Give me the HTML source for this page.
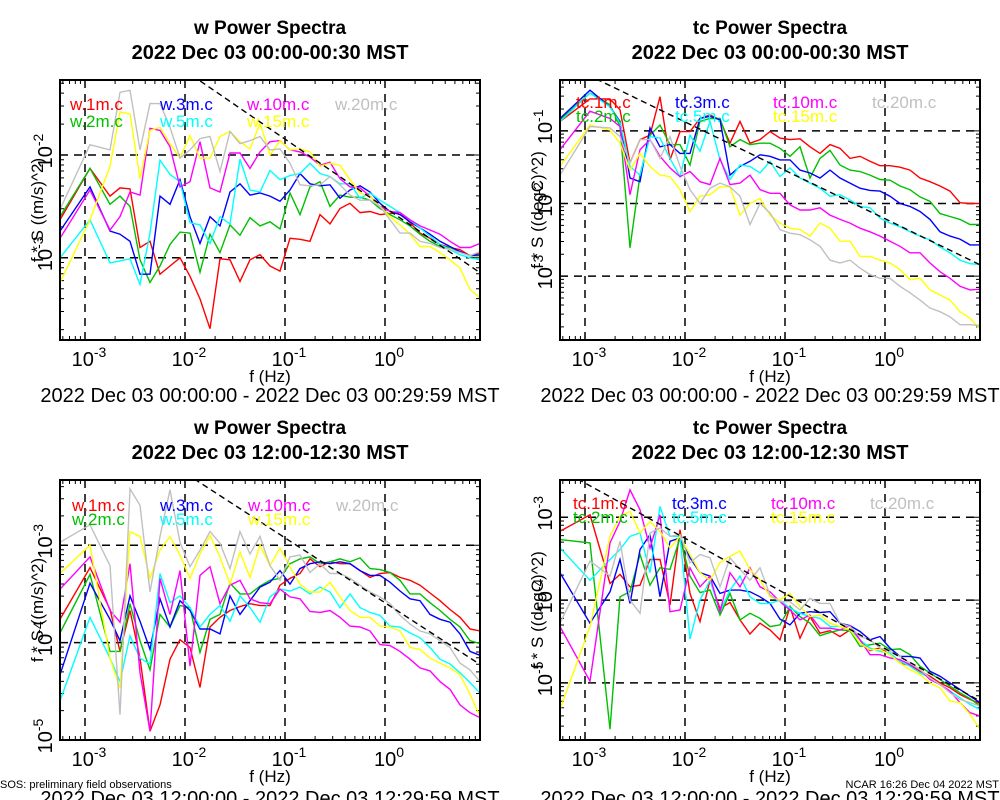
<!DOCTYPE html>
<html><head><meta charset="utf-8"><style>
html,body{margin:0;padding:0;background:#fff;}
svg{display:block;font-family:"Liberation Sans",Arial,sans-serif;}
</style></head><body>
<svg id="chart" width="1000" height="800" viewBox="0 0 1000 800" xmlns="http://www.w3.org/2000/svg">
<rect width="1000" height="800" fill="#fff"/>
<g id="texts">
<text x="270" y="34" text-anchor="middle" font-size="19" font-weight="bold">w Power Spectra</text>
<text x="270" y="59" text-anchor="middle" font-size="20" font-weight="bold">2022 Dec 03 00:00-00:30 MST</text>
<text x="770" y="34" text-anchor="middle" font-size="19" font-weight="bold">tc Power Spectra</text>
<text x="770" y="59" text-anchor="middle" font-size="20" font-weight="bold">2022 Dec 03 00:00-00:30 MST</text>
<text x="270" y="434" text-anchor="middle" font-size="19" font-weight="bold">w Power Spectra</text>
<text x="270" y="459" text-anchor="middle" font-size="20" font-weight="bold">2022 Dec 03 12:00-12:30 MST</text>
<text x="770" y="434" text-anchor="middle" font-size="19" font-weight="bold">tc Power Spectra</text>
<text x="770" y="459" text-anchor="middle" font-size="20" font-weight="bold">2022 Dec 03 12:00-12:30 MST</text>
<text x="270" y="402" text-anchor="middle" font-size="20">2022 Dec 03 00:00:00 - 2022 Dec 03 00:29:59 MST</text>
<text x="770" y="402" text-anchor="middle" font-size="20">2022 Dec 03 00:00:00 - 2022 Dec 03 00:29:59 MST</text>
<text x="270" y="805" text-anchor="middle" font-size="20">2022 Dec 03 12:00:00 - 2022 Dec 03 12:29:59 MST</text>
<text x="770" y="805" text-anchor="middle" font-size="20">2022 Dec 03 12:00:00 - 2022 Dec 03 12:29:59 MST</text>
<text x="0" y="788" font-size="11">SOS: preliminary field observations</text>
<text x="999" y="788" text-anchor="end" font-size="11">NCAR 16:26 Dec 04 2022 MST</text>
</g>
</svg>
<script>
// shared frequency axis (log10 Hz)
const logFreq = [-3.25,-2.95,-2.75,-2.65,-2.55,-2.45,-2.35,-2.25,-2.15,-2.05,-1.95,-1.85,-1.75,-1.65,-1.55,-1.45,-1.35,-1.25,-1.15,-1.05,-0.95,-0.85,-0.75,-0.65,-0.55,-0.45,-0.35,-0.25,-0.15,-0.05,0.05,0.15,0.25,0.35,0.45,0.55,0.65,0.75,0.85,0.95];
const xTickExps = [-3,-2,-1,0];
const seriesColors = ["#ff0000","#00c000","#0000ff","#00ffff","#ff00ff","#ffff00","#c0c0c0"];

// Panel 1: w, 00:00 (log10 f*S)
const wTopLabels = ["w.1m.c","w.2m.c","w.3m.c","w.5m.c","w.10m.c","w.15m.c","w.20m.c"];
const wTop1m = [-2.63,-2.13,-2.40,-2.32,-2.33,-2.90,-2.84,-3.16,-3.08,-3.00,-3.18,-3.40,-3.69,-3.01,-3.02,-3.23,-3.02,-2.97,-3.08,-3.13,-2.81,-2.82,-2.84,-2.58,-2.67,-2.52,-2.47,-2.56,-2.55,-2.58,-2.57,-2.56,-2.66,-2.76,-2.81,-2.87,-2.90,-2.92,-2.98,-2.95];
const wTop2m = [-2.60,-2.13,-2.48,-2.40,-2.50,-3.02,-3.24,-3.08,-2.87,-2.75,-2.76,-3.14,-2.77,-2.95,-2.68,-2.78,-2.61,-2.69,-2.65,-2.72,-2.37,-2.58,-2.31,-2.26,-2.50,-2.39,-2.41,-2.41,-2.44,-2.52,-2.58,-2.63,-2.69,-2.77,-2.84,-2.89,-2.90,-2.94,-2.98,-2.98];
const wTop3m = [-2.74,-2.31,-2.74,-2.77,-2.84,-3.16,-3.16,-2.40,-2.48,-2.24,-2.60,-2.86,-2.60,-2.69,-2.36,-2.28,-2.39,-2.37,-2.40,-2.45,-2.34,-2.18,-2.28,-2.30,-2.29,-2.42,-2.34,-2.30,-2.36,-2.47,-2.55,-2.58,-2.65,-2.71,-2.77,-2.84,-2.89,-2.94,-2.98,-2.97];
const wTop5m = [-3.00,-2.63,-3.05,-3.03,-3.01,-3.26,-2.76,-2.05,-2.19,-2.26,-2.66,-2.68,-2.86,-2.60,-2.67,-2.04,-2.34,-2.36,-2.15,-2.24,-2.20,-2.18,-2.08,-2.18,-2.21,-2.28,-2.28,-2.42,-2.37,-2.44,-2.50,-2.56,-2.63,-2.71,-2.79,-2.87,-2.92,-2.97,-3.00,-3.02];
const wTop10m = [-2.81,-2.34,-2.73,-2.60,-2.36,-2.39,-1.74,-1.76,-1.92,-2.31,-2.26,-1.87,-2.32,-2.36,-1.98,-1.98,-2.13,-1.97,-1.87,-1.86,-1.95,-1.97,-2.02,-2.10,-2.07,-2.23,-2.31,-2.32,-2.40,-2.50,-2.55,-2.56,-2.63,-2.69,-2.73,-2.77,-2.84,-2.90,-2.90,-2.86];
const wTop15m = [-3.24,-2.63,-2.11,-1.58,-1.60,-2.23,-1.76,-1.73,-1.89,-2.03,-1.81,-2.03,-2.03,-1.82,-1.77,-1.87,-1.94,-1.69,-2.00,-1.86,-1.95,-1.94,-1.97,-2.11,-2.08,-2.10,-2.24,-2.37,-2.40,-2.50,-2.60,-2.68,-2.77,-2.89,-2.89,-2.95,-3.02,-3.10,-3.31,-3.39];
const wTop20m = [-2.53,-1.90,-1.95,-1.39,-1.37,-1.95,-1.50,-1.50,-1.73,-2.03,-1.95,-1.84,-1.82,-2.16,-1.77,-1.89,-1.86,-1.82,-1.95,-1.94,-2.08,-2.29,-2.30,-2.29,-2.21,-2.29,-2.39,-2.44,-2.44,-2.50,-2.63,-2.76,-2.76,-2.84,-2.86,-2.90,-2.92,-2.95,-2.98,-2.94];

// Panel 2: tc, 00:00
const tcTopLabels = ["tc.1m.c","tc.2m.c","tc.3m.c","tc.5m.c","tc.10m.c","tc.15m.c","tc.20m.c"];
const tcTop1m = [-0.87,-0.56,-0.56,-0.71,-1.44,-1.12,-1.06,-0.53,-1.40,-1.01,-1.01,-0.83,-0.78,-0.85,-1.17,-0.87,-1.17,-1.12,-1.01,-1.10,-1.12,-1.11,-1.22,-1.31,-1.19,-1.24,-1.38,-1.35,-1.42,-1.48,-1.48,-1.50,-1.54,-1.65,-1.70,-1.76,-1.83,-1.99,-2.00,-2.00];
const tcTop2m = [-0.85,-0.48,-0.64,-0.94,-2.61,-1.61,-1.06,-0.92,-1.19,-1.19,-1.47,-0.87,-0.83,-0.83,-1.22,-1.12,-1.19,-1.17,-1.17,-1.24,-1.35,-1.22,-1.65,-1.38,-1.27,-1.47,-1.54,-1.56,-1.61,-1.67,-1.68,-1.76,-1.81,-1.91,-1.97,-2.14,-2.18,-2.22,-2.29,-2.29];
const tcTop3m = [-0.83,-0.44,-0.67,-0.87,-1.65,-1.70,-0.96,-1.22,-1.19,-1.31,-1.31,-0.83,-0.80,-0.85,-1.61,-1.49,-1.42,-1.33,-1.35,-1.40,-1.40,-1.54,-1.58,-1.65,-1.54,-1.65,-1.72,-1.79,-1.82,-1.83,-1.90,-2.00,-2.04,-2.11,-2.22,-2.39,-2.45,-2.49,-2.57,-2.57];
const tcTop5m = [-0.87,-0.48,-0.67,-0.89,-1.49,-1.61,-1.08,-1.10,-1.38,-1.63,-1.06,-1.28,-0.87,-1.40,-1.67,-1.47,-1.49,-1.58,-1.42,-1.63,-1.51,-1.65,-1.72,-1.79,-1.90,-1.88,-1.95,-2.04,-2.06,-2.20,-2.27,-2.32,-2.39,-2.45,-2.50,-2.60,-2.68,-2.78,-2.83,-2.84];
const tcTop10m = [-1.26,-0.73,-0.83,-0.94,-1.88,-1.26,-1.12,-1.35,-1.51,-1.63,-1.56,-1.70,-1.74,-1.38,-1.74,-1.72,-1.61,-1.81,-1.86,-1.86,-2.02,-2.09,-2.09,-2.06,-2.16,-2.22,-2.27,-2.34,-2.39,-2.45,-2.52,-2.59,-2.68,-2.68,-2.82,-2.94,-3.03,-3.14,-3.19,-3.18];
const tcTop15m = [-1.49,-0.92,-0.99,-1.17,-1.54,-1.31,-1.49,-1.61,-1.63,-1.81,-2.11,-1.90,-1.88,-1.77,-1.77,-2.16,-2.00,-1.93,-2.16,-2.27,-2.34,-2.36,-2.45,-2.27,-2.34,-2.52,-2.52,-2.73,-2.73,-2.78,-2.82,-2.91,-3.05,-3.03,-3.19,-3.26,-3.33,-3.49,-3.58,-3.73];
const tcTop20m = [-1.61,-0.94,-0.96,-1.08,-1.44,-1.12,-1.12,-1.38,-1.08,-1.49,-1.81,-2.00,-1.79,-1.72,-1.77,-1.90,-2.29,-2.00,-2.13,-2.36,-2.41,-2.43,-2.50,-2.59,-2.78,-2.82,-2.78,-2.89,-2.98,-3.03,-3.03,-3.14,-3.23,-3.33,-3.44,-3.49,-3.56,-3.67,-3.67,-3.68];

// Panel 3: w, 12:00
const wBot1m = [-3.76,-3.23,-3.66,-4.09,-3.67,-4.16,-4.91,-4.64,-4.17,-3.97,-4.05,-4.46,-3.84,-3.74,-3.67,-3.63,-3.60,-3.62,-3.62,-3.41,-3.34,-3.29,-3.14,-3.22,-3.17,-3.19,-3.19,-3.26,-3.33,-3.29,-3.28,-3.33,-3.36,-3.41,-3.49,-3.57,-3.66,-3.74,-3.86,-3.88];
const wBot2m = [-3.90,-3.30,-4.09,-4.09,-3.60,-3.98,-4.28,-3.71,-3.84,-3.62,-3.64,-4.10,-3.76,-3.71,-3.39,-3.50,-3.50,-3.42,-3.36,-3.34,-3.19,-3.14,-3.12,-3.19,-3.17,-3.14,-3.17,-3.13,-3.24,-3.25,-3.28,-3.36,-3.50,-3.50,-3.59,-3.67,-3.76,-3.84,-3.98,-4.01];
const wBot3m = [-4.33,-3.39,-3.76,-3.98,-3.52,-3.78,-4.07,-3.55,-3.84,-3.57,-3.67,-3.86,-3.86,-3.91,-3.52,-3.71,-3.57,-3.43,-3.38,-3.26,-3.40,-3.24,-3.19,-3.17,-3.19,-3.17,-3.19,-3.26,-3.31,-3.31,-3.38,-3.47,-3.55,-3.57,-3.71,-3.76,-3.79,-3.91,-4.09,-4.13];
const wBot5m = [-4.60,-3.74,-4.16,-4.40,-3.93,-4.16,-4.22,-3.29,-3.59,-3.52,-3.64,-3.84,-3.71,-3.62,-3.78,-3.52,-3.64,-3.79,-3.53,-3.45,-3.47,-3.43,-3.50,-3.43,-3.48,-3.64,-3.50,-3.64,-3.69,-3.72,-3.83,-3.84,-3.90,-3.95,-4.05,-4.17,-4.22,-4.31,-4.41,-4.52];
const wBot10m = [-3.45,-3.12,-3.67,-3.79,-3.19,-4.31,-4.91,-3.34,-3.71,-3.26,-4.24,-3.31,-3.22,-3.60,-3.41,-3.36,-3.55,-3.59,-3.60,-3.45,-3.53,-3.55,-3.68,-3.69,-3.67,-3.74,-3.83,-3.84,-3.88,-4.02,-4.03,-4.09,-4.17,-4.26,-4.29,-4.40,-4.48,-4.64,-4.72,-4.77];
const wBot15m = [-3.29,-3.00,-4.16,-4.47,-2.86,-2.91,-3.34,-3.05,-2.91,-3.10,-3.34,-3.09,-2.90,-3.12,-3.40,-3.07,-3.33,-3.00,-3.21,-3.03,-3.22,-3.40,-3.48,-3.48,-3.38,-3.53,-3.67,-3.74,-3.74,-3.83,-3.84,-3.88,-4.05,-4.07,-4.16,-4.21,-4.26,-4.33,-4.53,-4.76];
const wBot20m = [-2.97,-2.79,-3.21,-4.74,-2.42,-2.59,-3.48,-2.91,-2.43,-2.97,-3.22,-3.05,-2.86,-2.98,-3.24,-2.86,-3.09,-2.91,-3.21,-3.36,-3.12,-3.10,-3.28,-3.19,-3.29,-3.29,-3.34,-3.41,-3.48,-3.53,-3.60,-3.72,-3.81,-3.88,-3.91,-3.98,-4.05,-4.21,-4.28,-4.40];

// Panel 4: tc, 12:00
const tcBot1m = [-3.17,-2.97,-3.80,-3.69,-3.84,-3.82,-3.51,-3.51,-4.06,-3.15,-3.92,-4.26,-3.76,-4.10,-4.03,-4.24,-4.41,-4.28,-4.36,-4.48,-4.08,-4.46,-4.20,-4.40,-4.37,-4.44,-4.36,-4.48,-4.61,-4.58,-4.66,-4.76,-4.79,-4.86,-4.92,-5.00,-5.06,-5.14,-5.20,-5.25];
const tcBot2m = [-3.27,-3.31,-5.56,-3.96,-3.90,-3.45,-3.82,-3.61,-3.63,-3.25,-3.71,-3.91,-3.88,-4.18,-3.92,-4.24,-4.16,-4.22,-4.32,-4.30,-4.08,-4.20,-4.28,-4.43,-4.39,-4.36,-4.37,-4.56,-4.54,-4.52,-4.60,-4.59,-4.66,-4.80,-4.88,-4.96,-5.04,-5.12,-5.19,-5.28];
const tcBot3m = [-3.67,-4.28,-3.90,-3.51,-4.04,-3.39,-3.21,-3.96,-3.29,-3.25,-3.49,-3.67,-3.71,-3.92,-3.88,-3.88,-3.90,-3.96,-4.04,-4.23,-4.30,-4.16,-4.14,-4.15,-4.14,-4.28,-4.31,-4.38,-4.48,-4.44,-4.58,-4.68,-4.68,-4.70,-4.86,-4.92,-5.00,-5.08,-5.16,-5.24];
const tcBot5m = [-3.37,-3.76,-3.51,-3.39,-3.23,-3.19,-3.67,-2.87,-3.23,-3.23,-4.47,-4.00,-3.76,-4.14,-3.88,-3.71,-3.96,-4.04,-4.04,-4.00,-4.10,-4.16,-4.20,-4.22,-4.32,-4.32,-4.36,-4.48,-4.58,-4.62,-4.64,-4.74,-4.80,-4.88,-4.94,-5.02,-5.10,-5.18,-5.26,-5.32];
const tcBot10m = [-4.32,-4.98,-3.31,-3.05,-2.67,-2.91,-3.37,-2.97,-4.14,-4.12,-3.61,-3.84,-3.71,-4.14,-3.67,-3.84,-3.61,-3.84,-3.90,-4.02,-4.12,-4.24,-4.18,-4.34,-4.34,-4.36,-4.31,-4.48,-4.66,-4.66,-4.70,-4.72,-4.78,-4.84,-4.96,-5.02,-5.10,-5.24,-5.36,-5.40];
const tcBot15m = [-5.32,-4.32,-3.23,-2.99,-2.93,-3.19,-3.05,-3.17,-3.37,-3.23,-3.45,-3.67,-3.76,-3.55,-3.47,-3.41,-3.63,-3.76,-3.96,-4.00,-3.92,-4.08,-4.20,-4.18,-4.28,-4.32,-4.36,-4.52,-4.60,-4.60,-4.66,-4.76,-4.84,-4.90,-5.00,-5.06,-5.22,-5.24,-5.38,-5.56];
const tcBot20m = [-4.28,-3.53,-3.71,-3.29,-4.00,-4.16,-3.19,-3.13,-3.23,-3.21,-3.55,-3.45,-3.49,-3.84,-3.49,-3.63,-3.76,-3.61,-3.94,-4.02,-4.02,-4.12,-3.98,-4.04,-4.04,-4.28,-4.32,-4.44,-4.48,-4.58,-4.62,-4.68,-4.76,-4.84,-4.94,-5.02,-5.12,-5.20,-5.24,-5.28];

// reference -2/3 slope line anchors (log10 value at f = 10^0.95)
const refAnchors = [-3.145,-2.844,-4.224,-5.22];
const yTickExps = [[-2,-3],[-1,-2,-3],[-3,-4,-5],[-3,-4,-5]];

const panels = [
 {name:"w-top", x0:60,y0:80,w:420,h:260,ymin:-3.8,ymax:-1.27,labels:wTopLabels,series:[wTop1m,wTop2m,wTop3m,wTop5m,wTop10m,wTop15m,wTop20m],ytitle:"f * S ((m/s)^2)",legX:[70,160,247,335],legY:[110,127]},
 {name:"tc-top", x0:560,y0:80,w:420,h:260,ymin:-3.88,ymax:-0.30,labels:tcTopLabels,series:[tcTop1m,tcTop2m,tcTop3m,tcTop5m,tcTop10m,tcTop15m,tcTop20m],ytitle:"f * S ((degC)^2)",legX:[576,675,773,872],legY:[108,122]},
 {name:"w-bottom", x0:60,y0:480,w:420,h:260,ymin:-5.0,ymax:-2.33,labels:wTopLabels,series:[wBot1m,wBot2m,wBot3m,wBot5m,wBot10m,wBot15m,wBot20m],ytitle:"f * S ((m/s)^2)",legX:[72,160,248,336],legY:[511,525]},
 {name:"tc-bottom", x0:560,y0:480,w:420,h:260,ymin:-5.69,ymax:-2.55,labels:tcTopLabels,series:[tcBot1m,tcBot2m,tcBot3m,tcBot5m,tcBot10m,tcBot15m,tcBot20m],ytitle:"f * S ((degC)^2)",legX:[573,672,771,870],legY:[509,523]}
];
const XMIN=-3.25, XMAX=0.95;
const NS="http://www.w3.org/2000/svg";
const svg=document.getElementById("chart");
function mk(tag,attrs,parent){const e=document.createElementNS(NS,tag);for(const k in attrs)e.setAttribute(k,attrs[k]);(parent||svg).appendChild(e);return e;}

panels.forEach((p,pi)=>{
  const xs=v=>p.x0+(v-XMIN)/(XMAX-XMIN)*p.w;
  const ys=v=>p.y0+(p.ymax-v)/(p.ymax-p.ymin)*p.h;
  const g=mk("g",{});
  
  
  const cp=mk("clipPath",{id:"clip"+pi},g);
  mk("rect",{x:p.x0,y:p.y0,width:p.w,height:p.h},cp);
  xTickExps.forEach(e=>{
    const gl=mk("line",{x1:xs(e),x2:xs(e),y1:p.y0,y2:p.y0+p.h,stroke:"#000","stroke-width":1.5,"stroke-dasharray":"8,6"},g);
    
    
  });
  yTickExps[pi].forEach(e=>{
    const gl=mk("line",{x1:p.x0,x2:p.x0+p.w,y1:ys(e),y2:ys(e),stroke:"#000","stroke-width":1.5,"stroke-dasharray":"8,6"},g);
    
    
  });
  let tk="";
  for(let d=-4;d<=1;d++)for(let m=1;m<=9;m++){const v=d+Math.log10(m);if(v<XMIN||v>XMAX)continue;const x=xs(v),L=m==1?8:4;tk+=`M${x},${p.y0+p.h}v${-L}M${x},${p.y0}v${L}`;}
  for(let d=-7;d<=1;d++)for(let m=1;m<=9;m++){const v=d+Math.log10(m);if(v<p.ymin||v>p.ymax)continue;const y=ys(v),L=m==1?8:4;tk+=`M${p.x0},${y}h${L}M${p.x0+p.w},${y}h${-L}`;}
  const ticks=mk("path",{d:tk,stroke:"#000","stroke-width":1,fill:"none"},g);
  
  
  p.series.forEach((s,si)=>{
    const d=s.map((v,i)=>(i?"L":"M")+xs(logFreq[i]).toFixed(1)+","+ys(v).toFixed(1)).join("");
    const pl=mk("path",{d:d,fill:"none",stroke:seriesColors[si],"stroke-width":1.4,"clip-path":"url(#clip"+pi+")"},g);
    
    
  });
  const a=refAnchors[pi];
  const rl=mk("line",{x1:xs(XMIN),y1:ys(a-(2/3)*(XMIN-0.95)),x2:xs(XMAX),y2:ys(a),stroke:"#000","stroke-width":1.4,"stroke-dasharray":"6,4","clip-path":"url(#clip"+pi+")"},g);
  
  
  const fr=mk("rect",{x:p.x0,y:p.y0,width:p.w,height:p.h,fill:"none",stroke:"#000","stroke-width":2},g);
  
  
  p.labels.forEach((lab,si)=>{
    const row=si%2;
    const cx = si<6 ? p.legX[Math.floor(si/2)] : p.legX[3];
    const cy = si<6 ? p.legY[row] : p.legY[0];
    const t=mk("text",{x:cx,y:cy,fill:seriesColors[si],"font-size":17},g);
    t.textContent=lab;
    
    
  });
  xTickExps.forEach(e=>{
    const t=mk("text",{x:xs(e)+4,y:p.y0+p.h+26,"text-anchor":"middle","font-size":20},g);
    t.innerHTML="10<tspan dy='-9' font-size='14'>"+e+"</tspan>";
    
    
  });
  const xt=mk("text",{x:p.x0+p.w/2,y:p.y0+p.h+42,"text-anchor":"middle","font-size":17},g);
  xt.textContent="f (Hz)";
  
  
  yTickExps[pi].forEach(e=>{
    const y=ys(e)-4, x=p.x0-8;
    const t=mk("text",{x:0,y:0,"text-anchor":"middle","font-size":20,transform:`translate(${x},${y}) rotate(-90)`},g);
    t.innerHTML="10<tspan dy='-9' font-size='14'>"+e+"</tspan>";
    
    
  });
  const yt=mk("text",{x:0,y:0,"text-anchor":"middle","font-size":17,transform:`translate(${p.x0-17},${p.y0+p.h/2}) rotate(-90)`},g);
  yt.textContent=p.ytitle;
  
  
});
</script>
</body></html>
